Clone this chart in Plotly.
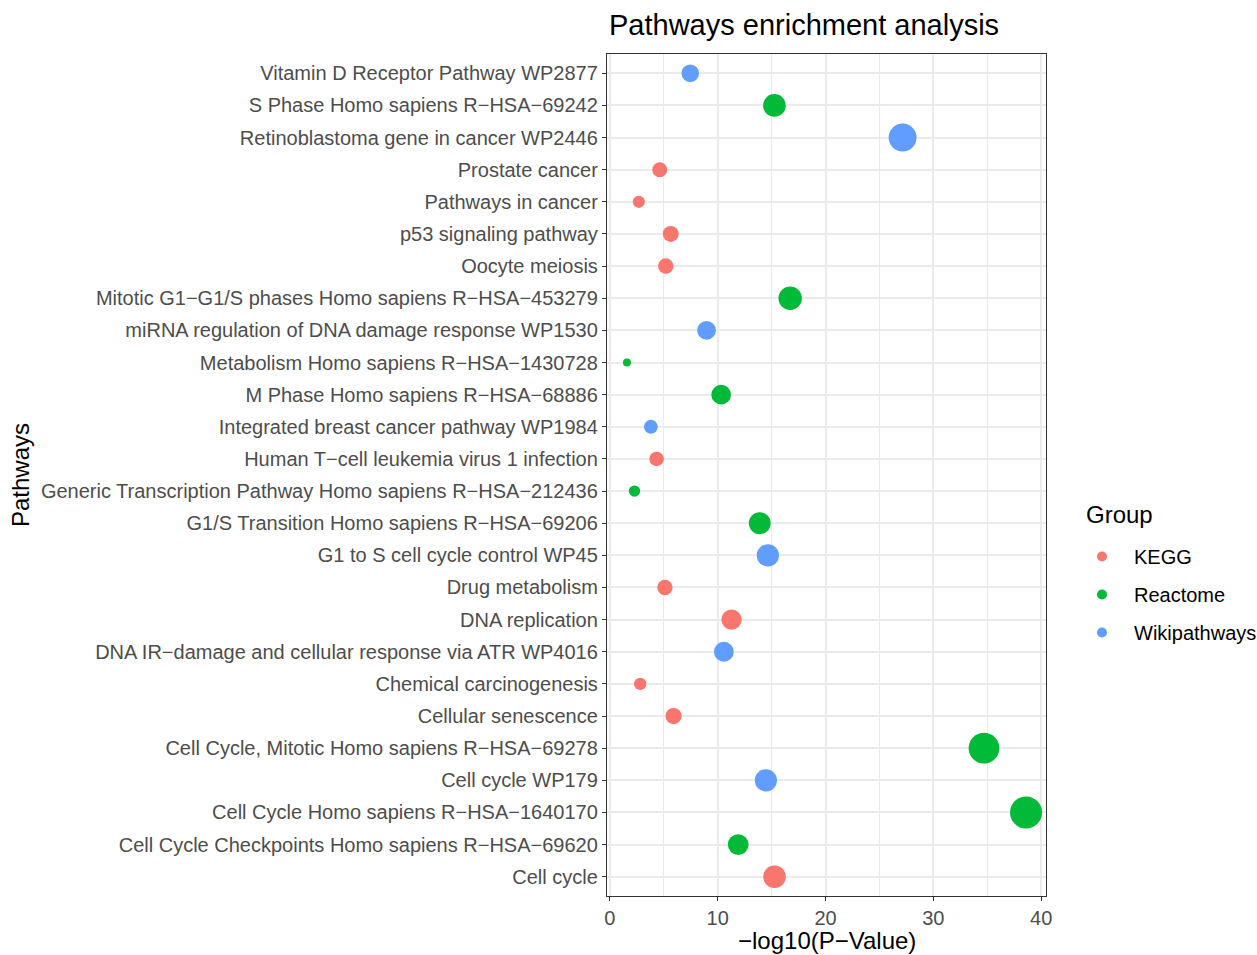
import numpy as np
import plotly.graph_objects as go

# Pathways listed top to bottom as shown
pathways = [
    "Vitamin D Receptor Pathway WP2877",
    "S Phase Homo sapiens R\u2212HSA\u221269242",
    "Retinoblastoma gene in cancer WP2446",
    "Prostate cancer",
    "Pathways in cancer",
    "p53 signaling pathway",
    "Oocyte meiosis",
    "Mitotic G1\u2212G1/S phases Homo sapiens R\u2212HSA\u2212453279",
    "miRNA regulation of DNA damage response WP1530",
    "Metabolism Homo sapiens R\u2212HSA\u22121430728",
    "M Phase Homo sapiens R\u2212HSA\u221268886",
    "Integrated breast cancer pathway WP1984",
    "Human T\u2212cell leukemia virus 1 infection",
    "Generic Transcription Pathway Homo sapiens R\u2212HSA\u2212212436",
    "G1/S Transition Homo sapiens R\u2212HSA\u221269206",
    "G1 to S cell cycle control WP45",
    "Drug metabolism",
    "DNA replication",
    "DNA IR\u2212damage and cellular response via ATR WP4016",
    "Chemical carcinogenesis",
    "Cellular senescence",
    "Cell Cycle, Mitotic Homo sapiens R\u2212HSA\u221269278",
    "Cell cycle WP179",
    "Cell Cycle Homo sapiens R\u2212HSA\u22121640170",
    "Cell Cycle Checkpoints Homo sapiens R\u2212HSA\u221269620",
    "Cell cycle",
]
neglog10p = [7.45, 15.26, 27.15, 4.62, 2.68, 5.64, 5.18, 16.72, 8.96, 1.58,
             10.32, 3.80, 4.33, 2.28, 13.90, 14.65, 5.10, 11.28, 10.57, 2.81,
             5.90, 34.70, 14.47, 38.60, 11.90, 15.27]
group = ["Wikipathways", "Reactome", "Wikipathways", "KEGG", "KEGG", "KEGG", "KEGG",
         "Reactome", "Wikipathways", "Reactome", "Reactome", "Wikipathways", "KEGG",
         "Reactome", "Reactome", "Wikipathways", "KEGG", "KEGG", "Wikipathways", "KEGG",
         "KEGG", "Reactome", "Wikipathways", "Reactome", "Reactome", "KEGG"]
groups = ["KEGG", "Reactome", "Wikipathways"]
colors = {"KEGG": "#F8766D", "Reactome": "#00BA38", "Wikipathways": "#619CFF"}

FONT = "Liberation Sans, Arial, sans-serif"
vals = np.array(neglog10p)
vmin, vmax = vals.min(), vals.max()


def size_scale(v):
    # ggplot2 scale_size (area) with range 1..6, converted to pixel diameter
    s = 1 + 5 * np.sqrt((np.asarray(v) - vmin) / (vmax - vmin))
    fs = 2.845 * s + 0.945
    return 1.6 + 1.69 * fs


fig = go.Figure()
for g in groups:
    idx = [i for i, gg in enumerate(group) if gg == g]
    xs = [neglog10p[i] for i in idx]
    ys = [pathways[i] for i in idx]
    fig.add_trace(go.Scatter(
        x=xs, y=ys, mode="markers", showlegend=False,
        marker=dict(color=colors[g], size=size_scale(xs), line=dict(width=0), opacity=1),
        name=g, hoverinfo="x+y+name"))
for g in groups:
    fig.add_trace(go.Scatter(
        x=[None], y=[None], mode="markers", name=g, legendgroup=g,
        marker=dict(color=colors[g], size=10)))

pad = 0.05 * (vmax - vmin)
L, R, T, B = 607, 211, 54, 59
W, H = 1257, 955
pw, ph = W - L - R, H - T - B
TICK = 20

fig.update_layout(
    width=W, height=H,
    margin=dict(l=L, r=R, t=T, b=B, autoexpand=False),
    paper_bgcolor="white", plot_bgcolor="white",
    font=dict(family=FONT, size=TICK, color="#4D4D4D"),
    xaxis=dict(
        range=[vmin - pad, vmax + pad],
        tickvals=[0, 10, 20, 30, 40],
        showgrid=True, gridcolor="#EBEBEB", gridwidth=1.8,
        minor=dict(dtick=5, tick0=0, showgrid=True, gridcolor="#EBEBEB", gridwidth=0.9),
        showline=True, mirror=True, linecolor="#333333", linewidth=1.3,
        ticks="outside", ticklen=4, tickcolor="#333333", tickwidth=1.3,
        tickfont=dict(size=TICK, color="#4D4D4D"),
        zeroline=False, automargin=False,
    ),
    yaxis=dict(
        type="category",
        categoryorder="array", categoryarray=pathways[::-1],
        range=[-0.6, len(pathways) - 0.4],
        showgrid=True, gridcolor="#EBEBEB", gridwidth=1.8,
        showline=True, mirror=True, linecolor="#333333", linewidth=1.3,
        ticks="outside", ticklen=4, tickcolor="#333333", tickwidth=1.3,
        tickfont=dict(size=TICK, color="#4D4D4D"),
        zeroline=False, automargin=False,
    ),
    legend=dict(
        font=dict(size=TICK, color="black"),
        x=(1070 - L) / pw, xanchor="left",
        y=1 - (537 - T) / ph, yanchor="top",
        itemwidth=54,
        traceorder="grouped", tracegroupgap=9,
        bgcolor="rgba(0,0,0,0)",
    ),
    annotations=[
        dict(text="Pathways enrichment analysis", xref="paper", yref="paper",
             x=0, xanchor="left", y=1 + (T - 25) / ph, yanchor="middle",
             showarrow=False, font=dict(size=29, color="black", family=FONT)),
        dict(text="\u2212log10(P\u2212Value)", xref="paper", yref="paper",
             x=0.5, xanchor="center", y=-(940 - (H - B)) / ph, yanchor="middle",
             showarrow=False, font=dict(size=24, color="black", family=FONT)),
        dict(text="Pathways", xref="paper", yref="paper", textangle=-90,
             x=(20 - L) / pw, xanchor="center", y=1 - (475 - T) / ph, yanchor="middle",
             showarrow=False, font=dict(size=24, color="black", family=FONT)),
        dict(text="Group", xref="paper", yref="paper",
             x=(1084 - L) / pw, xanchor="left", y=1 - (514 - T) / ph, yanchor="middle",
             showarrow=False, font=dict(size=24, color="black", family=FONT)),
    ],
)

fig.write_html("out.html", config={"displayModeBar": False},
               post_script="document.body.style.margin='0px';")
